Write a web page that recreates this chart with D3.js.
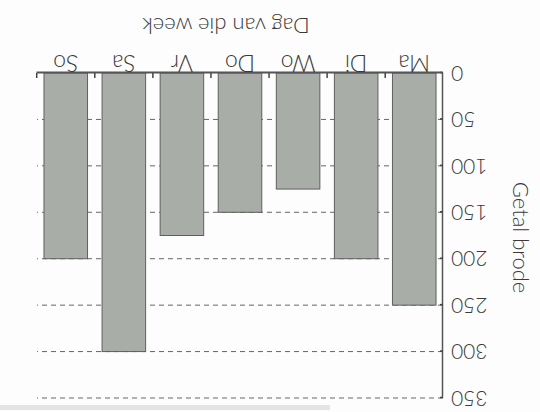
<!DOCTYPE html>
<html lang="af">
<head>
    <meta charset="UTF-8">
    <title>Getal brode per dag</title>
    <script src="https://d3js.org/d3.v7.min.js"></script>
    <style>
        body { margin: 0; background-color: #fdfdfd; }
        svg { display: block; font-family: Lato, "Open Sans", sans-serif; font-weight: 300; }
    </style>
</head>
<body>
    <div id="chart"></div>
    <script>
        // data
        const days = ["Ma", "Di", "Wo", "Do", "Vr", "Sa", "So"];
        const loaves = [250, 200, 125, 150, 175, 300, 200];
        const yTicks = [0, 50, 100, 150, 200, 250, 300, 350];
        const xTitle = "Dag van die week";
        const yTitle = "Getal brode";

        const width = 540, height = 412;

        const svg = d3.select("#chart").append("svg")
            .attr("width", width)
            .attr("height", height);

        // scanned page edge
        svg.append("rect")
            .attr("x", 0).attr("y", 405)
            .attr("width", 330).attr("height", 5)
            .attr("fill", "#e4e4e4");

        // the scan is upside down, so draw everything rotated 180 degrees
        const g = svg.append("g")
            .attr("transform", `rotate(180, ${width / 2}, ${height / 2})`);

        const x = d3.scaleBand()
            .domain(days)
            .range([97, 503])
            .paddingInner(0.25)
            .paddingOuter(0.12);

        const y = d3.scaleLinear()
            .domain([0, 350])
            .range([339, 14]);

        // dashed gridlines
        g.append("g")
            .selectAll("line")
            .data(yTicks.filter(d => d > 0))
            .join("line")
            .attr("x1", 97)
            .attr("x2", 503)
            .attr("y1", d => y(d))
            .attr("y2", d => y(d))
            .attr("stroke", "#666")
            .attr("stroke-width", 1)
            .attr("stroke-dasharray", "5,4");

        // bars
        g.append("g")
            .selectAll("rect")
            .data(days)
            .join("rect")
            .attr("x", d => x(d))
            .attr("y", (d, i) => y(loaves[i]))
            .attr("width", x.bandwidth())
            .attr("height", (d, i) => y(0) - y(loaves[i]))
            .attr("fill", "#a8ada8")
            .attr("stroke", "#5e605e")
            .attr("stroke-width", 1);

        // y axis
        const yAxis = g.append("g")
            .attr("transform", "translate(97,0)")
            .call(d3.axisLeft(y)
                .tickValues(yTicks)
                .tickSizeInner(-3)
                .tickSizeOuter(0)
                .tickPadding(8));
        yAxis.select(".domain").attr("stroke", "#555").attr("stroke-width", 1.5);
        yAxis.selectAll(".tick line").attr("stroke", "#444").attr("stroke-width", 1.5);
        yAxis.selectAll(".tick text")
            .attr("font-size", 21)
            .attr("font-family", "Lato, sans-serif")
            .attr("fill", "#3a3a3a");

        // x axis: ticks between the days, pointing into the plot
        const xAxis = g.append("g")
            .attr("transform", `translate(0,${y(0)})`)
            .call(d3.axisBottom(x).tickSize(0).tickPadding(2));
        xAxis.select(".domain").attr("stroke", "#555").attr("stroke-width", 2);
        xAxis.selectAll(".tick text")
            .attr("font-size", 23)
            .attr("font-family", "Lato, sans-serif")
            .attr("fill", "#3a3a3a");

        const step = x.step();
        const bounds = days.map(d => x(d) + x.bandwidth() + (step - x.bandwidth()) / 2);
        g.append("g")
            .selectAll("line")
            .data(bounds)
            .join("line")
            .attr("x1", d => d)
            .attr("x2", d => d)
            .attr("y1", y(0))
            .attr("y2", y(0) - 5)
            .attr("stroke", "#444")
            .attr("stroke-width", 1.5);

        // axis titles
        g.append("text")
            .attr("x", 314)
            .attr("y", 394)
            .attr("text-anchor", "middle")
            .attr("font-size", 22)
            .attr("fill", "#3a3a3a")
            .text(xTitle);

        g.append("text")
            .attr("transform", `translate(27,${y(175) - 2}) rotate(-90)`)
            .attr("text-anchor", "middle")
            .attr("font-size", 22)
            .attr("fill", "#3a3a3a")
            .text(yTitle);
    </script>
</body>
</html>
